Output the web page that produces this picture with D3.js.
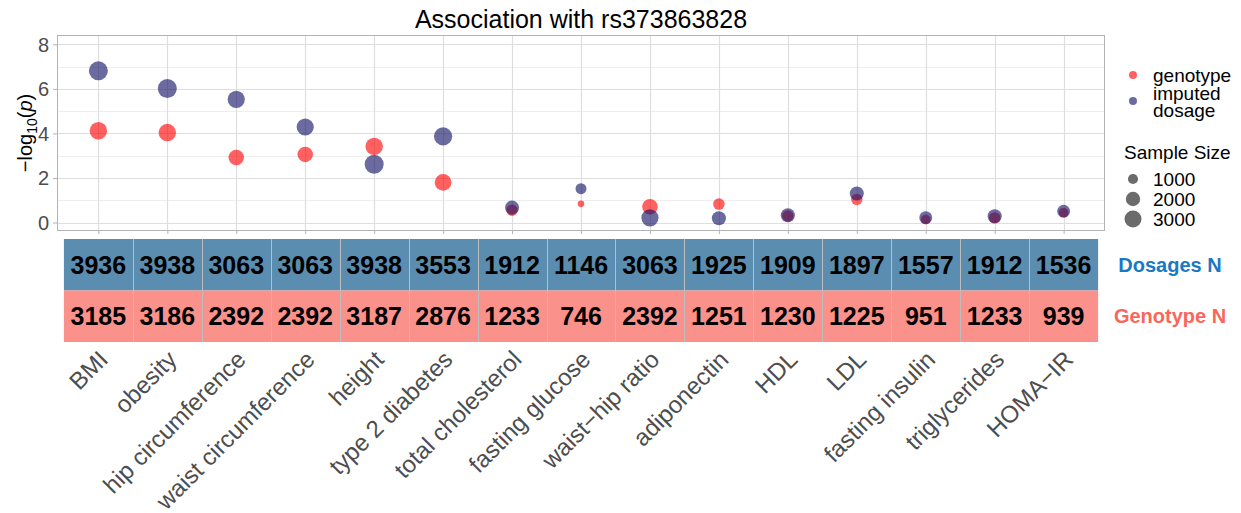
<!DOCTYPE html>
<html>
<head>
<meta charset="utf-8">
<script src="https://cdn.jsdelivr.net/npm/d3@7"></script>
<style>
  html, body { margin: 0; padding: 0; background: #fff; }
  svg { display: block; font-family: "Liberation Sans", Arial, Helvetica, sans-serif; }
</style>
</head>
<body>
<svg id="chart" width="1241" height="513"></svg>
<script>
const categories = ["BMI", "obesity", "hip circumference", "waist circumference", "height",
  "type 2 diabetes", "total cholesterol", "fasting glucose", "waist\u2212hip ratio", "adiponectin",
  "HDL", "LDL", "fasting insulin", "triglycerides", "HOMA\u2212IR"];
const dosageLogP   = [6.81, 6.02, 5.53, 4.29, 2.62, 3.87, 0.67, 1.52, 0.21, 0.19, 0.33, 1.30, 0.22, 0.28, 0.51];
const genotypeLogP = [4.12, 4.04, 2.92, 3.06, 3.42, 1.80, 0.55, 0.84, 0.71, 0.83, 0.29, 1.04, 0.13, 0.21, 0.44];
const dosageN   = [3936, 3938, 3063, 3063, 3938, 3553, 1912, 1146, 3063, 1925, 1909, 1897, 1557, 1912, 1536];
const genotypeN = [3185, 3186, 2392, 2392, 3187, 2876, 1233, 746, 2392, 1251, 1230, 1225, 951, 1233, 939];
const yTicks = [0, 2, 4, 6, 8];
const yMinorTicks = [1, 3, 5, 7];
const sizeBreaks = [1000, 2000, 3000];
const titleText = "Association with rs373863828";

const svg = d3.select("#chart");
const panel = { left: 57, right: 1105, top: 35, bottom: 231 };

const x = d3.scalePoint().domain(categories).range([panel.left, panel.right]).padding(0.6);
const step = x.step();
const y = d3.scaleLinear().domain([-0.38, 8.42]).range([panel.bottom, panel.top]);
const allN = dosageN.concat(genotypeN);
const nExt = d3.extent(allN);
const sizeT = d3.scaleSqrt().domain([0, nExt[1] - nExt[0]]).range([0, 1]);
const r = n => 3.3 + 6.2 * sizeT(n - nExt[0]);

const red = "rgba(255,0,0,0.62)";
const blue = "rgba(20,20,105,0.63)";

// Title
svg.append("text").attr("x", (panel.left + panel.right) / 2).attr("y", 28)
  .attr("text-anchor", "middle").attr("font-size", 25).attr("fill", "#000").text(titleText);

// Grid
const g = svg.append("g");
g.selectAll(".minor").data(yMinorTicks).join("line")
  .attr("x1", panel.left).attr("x2", panel.right)
  .attr("y1", d => Math.round(y(d)) + 0.5).attr("y2", d => Math.round(y(d)) + 0.5)
  .attr("stroke", "#EEEEEE").attr("stroke-width", 1);
g.selectAll(".major").data(yTicks).join("line")
  .attr("x1", panel.left).attr("x2", panel.right)
  .attr("y1", d => Math.round(y(d)) + 0.5).attr("y2", d => Math.round(y(d)) + 0.5)
  .attr("stroke", "#DEDEDE").attr("stroke-width", 1.2);
g.selectAll(".vgrid").data(categories).join("line")
  .attr("x1", d => Math.round(x(d)) + 0.5).attr("x2", d => Math.round(x(d)) + 0.5)
  .attr("y1", panel.top).attr("y2", panel.bottom)
  .attr("stroke", "#DEDEDE").attr("stroke-width", 1.2);

// Points: genotype first, dosage on top
const pts = svg.append("g");
pts.selectAll(".gen").data(categories).join("circle")
  .attr("cx", d => x(d)).attr("cy", (d, i) => y(genotypeLogP[i]))
  .attr("r", (d, i) => r(genotypeN[i])).attr("fill", red);
pts.selectAll(".dos").data(categories).join("circle")
  .attr("cx", d => x(d)).attr("cy", (d, i) => y(dosageLogP[i]))
  .attr("r", (d, i) => r(dosageN[i])).attr("fill", blue);

// Panel border
svg.append("rect").attr("x", panel.left + 0.5).attr("y", panel.top + 0.5)
  .attr("width", panel.right - panel.left - 1).attr("height", panel.bottom - panel.top - 1)
  .attr("fill", "none").attr("stroke", "#B3B3B3").attr("stroke-width", 1);

// Y axis
const yAxis = d3.axisLeft(y).tickValues(yTicks).tickSize(4).tickPadding(4).tickFormat(d3.format("d"));
const ya = svg.append("g").attr("transform", `translate(${panel.left},0)`).call(yAxis);
ya.select(".domain").remove();
ya.selectAll(".tick line").attr("stroke", "#B3B3B3");
ya.selectAll(".tick text").attr("font-size", 20).attr("fill", "#4D4D4D")
  .attr("font-family", "Liberation Sans, Arial, sans-serif").attr("dy", "0.35em");

// X axis ticks (labels drawn separately under table)
const xAxis = d3.axisBottom(x).tickSize(3).tickFormat("");
const xa = svg.append("g").attr("transform", `translate(0,${panel.bottom})`).call(xAxis);
xa.select(".domain").remove();
xa.selectAll(".tick line").attr("stroke", "#B3B3B3");

// Y title
const yt = svg.append("text").attr("transform", `translate(32,${(panel.top + panel.bottom) / 2}) rotate(-90)`)
  .attr("text-anchor", "middle").attr("font-size", 20).attr("fill", "#000");
yt.append("tspan").text("\u2212log");
yt.append("tspan").attr("font-size", 14).attr("dy", 5).text("10");
yt.append("tspan").attr("dy", -5).text("(");
yt.append("tspan").attr("font-style", "italic").text("p");
yt.append("tspan").text(")");

// Table
const tblTop = 239, rowH = 51.5;
const rows = [
  { vals: dosageN, fill: "#5A8DAF", label: "Dosages N", color: "#1B78C2" },
  { vals: genotypeN, fill: "#FA918A", label: "Genotype N", color: "#F8665C" }
];
const tbl = svg.append("g");
rows.forEach((row, ri) => {
  const ty = tblTop + ri * rowH;
  tbl.append("rect").attr("x", x(categories[0]) - step / 2).attr("y", ty)
    .attr("width", step * categories.length).attr("height", rowH).attr("fill", row.fill);
  tbl.selectAll(null).data(categories).join("text")
    .attr("x", d => x(d)).attr("y", ty + rowH / 2 + 9)
    .attr("text-anchor", "middle").attr("font-size", 25).attr("font-weight", "bold")
    .attr("fill", "#000").text((d, i) => row.vals[i]);
  tbl.append("text").attr("x", 1170).attr("y", ty + rowH / 2 + 7)
    .attr("text-anchor", "middle").attr("font-size", 20).attr("font-weight", "bold")
    .attr("fill", row.color).text(row.label);
});
tbl.selectAll(".sep").data(categories.slice(1)).join("line")
  .attr("x1", d => Math.round(x(d) - step / 2) + 0.5).attr("x2", d => Math.round(x(d) - step / 2) + 0.5)
  .attr("y1", tblTop).attr("y2", tblTop + 2 * rowH)
  .attr("stroke", "#BDBDBD").attr("stroke-width", 1);

// X labels
svg.append("g").selectAll("text").data(categories).join("text")
  .attr("transform", d => `translate(${x(d) + 11},361) rotate(-45)`)
  .attr("text-anchor", "end").attr("font-size", 24).attr("fill", "#4D4D4D").text(d => d);

// Legend
const lg = svg.append("g");
lg.append("circle").attr("cx", 1133).attr("cy", 75).attr("r", 4).attr("fill", red);
lg.append("text").attr("x", 1153).attr("y", 81.5).attr("font-size", 19).text("genotype");
lg.append("circle").attr("cx", 1133).attr("cy", 101).attr("r", 4).attr("fill", blue);
lg.append("text").attr("x", 1153).attr("y", 99.5).attr("font-size", 19).text("imputed");
lg.append("text").attr("x", 1153).attr("y", 116.5).attr("font-size", 19).text("dosage");
lg.append("text").attr("x", 1124).attr("y", 159).attr("font-size", 19).text("Sample Size");
const sizeY = [179, 199, 219];
lg.selectAll(".sz").data(sizeBreaks).join("circle")
  .attr("cx", 1133).attr("cy", (d, i) => sizeY[i]).attr("r", d => r(d)).attr("fill", "#6B6B6B");
lg.selectAll(".szt").data(sizeBreaks).join("text")
  .attr("x", 1153).attr("y", (d, i) => sizeY[i] + 7).attr("font-size", 19).text(d => d);
</script>
</body>
</html>
